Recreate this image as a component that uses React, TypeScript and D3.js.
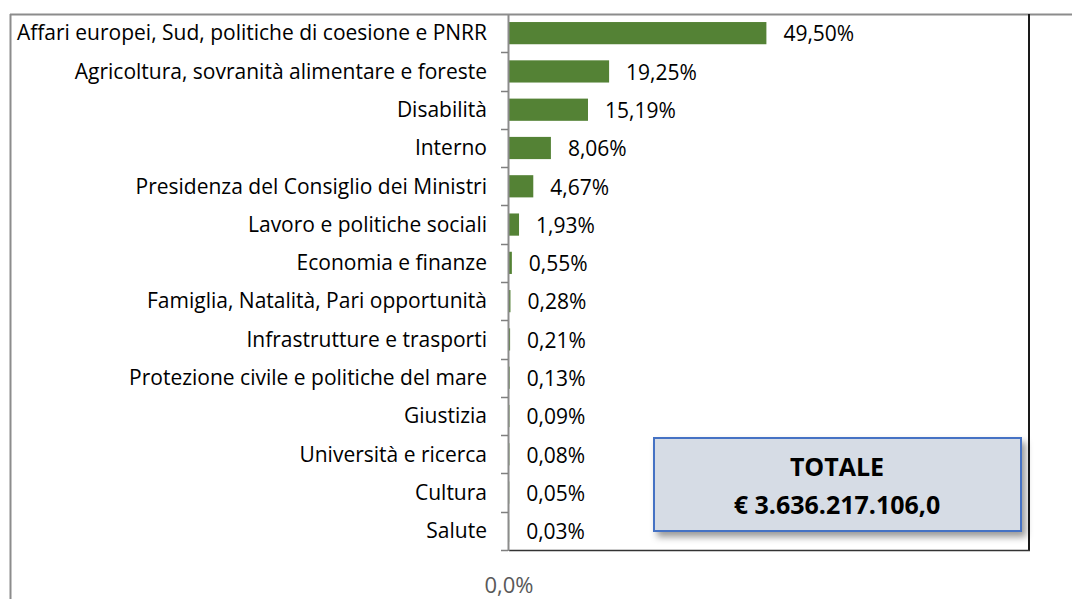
import React from "react";
import * as d3 from "d3";

const categories = [
  "Affari europei, Sud, politiche di coesione e PNRR",
  "Agricoltura, sovranità alimentare e foreste",
  "Disabilità",
  "Interno",
  "Presidenza del Consiglio dei Ministri",
  "Lavoro e politiche sociali",
  "Economia e finanze",
  "Famiglia, Natalità, Pari opportunità",
  "Infrastrutture e trasporti",
  "Protezione civile e politiche del mare",
  "Giustizia",
  "Università e ricerca",
  "Cultura",
  "Salute",
];
const values = [49.5, 19.25, 15.19, 8.06, 4.67, 1.93, 0.55, 0.28, 0.21, 0.13, 0.09, 0.08, 0.05, 0.03];
const xTicks = [0];
const totalTitle = "TOTALE";
const totalValue = "€ 3.636.217.106,0";

const W = 1072;
const H = 599;
const plot = { left: 509, right: 1029, top: 14, bottom: 550 };
const FONT = "'Open Sans', sans-serif";

export default function App() {
  const x = d3.scaleLinear().domain([0, 100]).range([plot.left, plot.right]);
  const y = d3.scaleBand<string>().domain(categories).range([plot.top, plot.bottom]).paddingInner(0.42).paddingOuter(0.21);
  const fmt = (v: number) => v.toFixed(2).replace(".", ",") + "%";
  const boundaries = d3.range(categories.length + 1).map((i) => plot.top + i * ((plot.bottom - plot.top) / categories.length));

  return (
    <svg width={W} height={H} style={{ position: "absolute", left: 0, top: 0, background: "#fff" }} fontFamily={FONT}>
      <defs>
        <filter id="shadow" x="-10%" y="-10%" width="130%" height="140%">
          <feDropShadow dx="4" dy="5" stdDeviation="3.5" floodColor="#000" floodOpacity="0.4" />
        </filter>
      </defs>
      {/* chart area border */}
      <line x1={10.5} x2={10.5} y1={14} y2={H} stroke="#8c8c8c" strokeWidth={2} />
      <line x1={10} x2={W} y1={14.5} y2={14.5} stroke="#8c8c8c" strokeWidth={2} />
      {/* bars */}
      {categories.map((c, i) => (
        <rect key={c} x={x(0)} y={y(c)!} width={x(values[i]) - x(0)} height={y.bandwidth()} fill="#548235" />
      ))}
      {/* plot area right & bottom */}
      <line x1={plot.right} x2={plot.right} y1={plot.top} y2={plot.bottom + 1} stroke="#1a1a1a" strokeWidth={2} />
      <line x1={plot.left} x2={plot.right + 1} y1={plot.bottom + 0.5} y2={plot.bottom + 0.5} stroke="#333" strokeWidth={1.5} />
      {/* left axis */}
      <line x1={plot.left - 0.5} x2={plot.left - 0.5} y1={plot.top} y2={plot.bottom + 1} stroke="#8c8c8c" strokeWidth={2} />
      {boundaries.slice(1).map((b, i) => (
        <line key={i} x1={plot.left - 8} x2={plot.left - 1} y1={Math.round(b) + 0.5} y2={Math.round(b) + 0.5} stroke="#7f7f7f" strokeWidth={1.5} />
      ))}
      {/* category labels */}
      {categories.map((c) => (
        <text key={c} x={487} y={y(c)! + y.bandwidth() / 2} dy="0.35em" textAnchor="end" fontSize={21} fill="#000">
          {c}
        </text>
      ))}
      {/* value labels */}
      {categories.map((c, i) => (
        <text key={c} x={x(values[i]) + 17} y={y(c)! + y.bandwidth() / 2 + 1} dy="0.35em" fontSize={21} fill="#000">
          {fmt(values[i])}
        </text>
      ))}
      {/* x tick labels */}
      {xTicks.map((t) => (
        <text key={t} x={x(t)} y={585} dy="0.35em" textAnchor="middle" fontSize={22} fill="#595959">
          {t.toFixed(1).replace(".", ",") + "%"}
        </text>
      ))}
      {/* total box */}
      <g>
        <rect x={654} y={438} width={367} height={93} fill="#d6dce5" stroke="#4472c4" strokeWidth={2} filter="url(#shadow)" />
        <text x={837} y={467} dy="0.35em" textAnchor="middle" fontSize={25} fontWeight="bold" fill="#000">
          {totalTitle}
        </text>
        <text x={837} y={505} dy="0.35em" textAnchor="middle" fontSize={25} fontWeight="bold" fill="#000">
          {totalValue}
        </text>
      </g>
    </svg>
  );
}
